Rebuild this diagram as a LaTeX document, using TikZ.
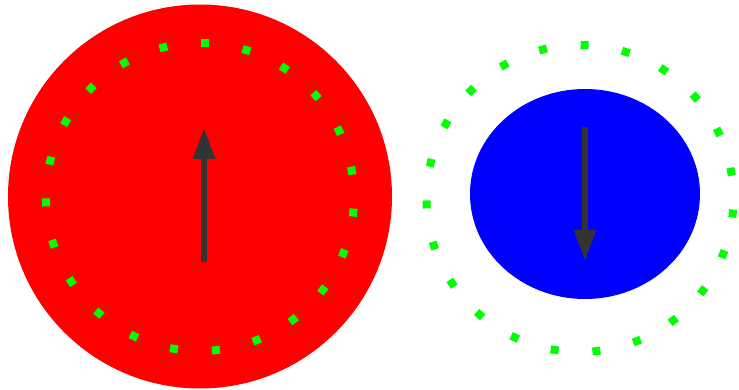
\documentclass[tikz,border=0pt]{standalone}
\usetikzlibrary{arrows.meta,calc}
\definecolor{arr}{HTML}{333333}
\definecolor{grn}{HTML}{00FF00}
\tikzset{
  spin/.style={line width=6pt, draw=arr, -{Triangle[width=21pt,length=31pt]}, fill=arr},
  dot/.style={fill=grn, minimum size=8pt, inner sep=0pt, draw=none},
}
\begin{document}
\begin{tikzpicture}[x=1pt,y=-1pt]
\useasboundingbox (0,0) rectangle (739,390);
% red circle
\fill[red] (200,196.5) circle[radius=192];
\foreach \i in {0,...,22}{
  \pgfmathsetmacro{\a}{88.1-\i*360/23}
  \node[dot, rotate=\a] (rd\i) at ($(200,197)+(-\a:154)$) {};
}
\coordinate (ra) at (204,262);
\coordinate (rb) at (204,128);
\draw[spin] (ra) -- (rb);
% blue ellipse
\fill[blue] (585,194) ellipse[x radius=115, y radius=105];
\foreach \i in {0,...,22}{
  \pgfmathsetmacro{\a}{88.3-\i*360/23}
  \node[dot, rotate=\a] (bd\i) at ($(580,198.5)+(-\a:153.5)$) {};
}
\coordinate (ba) at (585,127);
\coordinate (bb) at (585,261);
\draw[spin] (ba) -- (bb);
\end{tikzpicture}
\end{document}
